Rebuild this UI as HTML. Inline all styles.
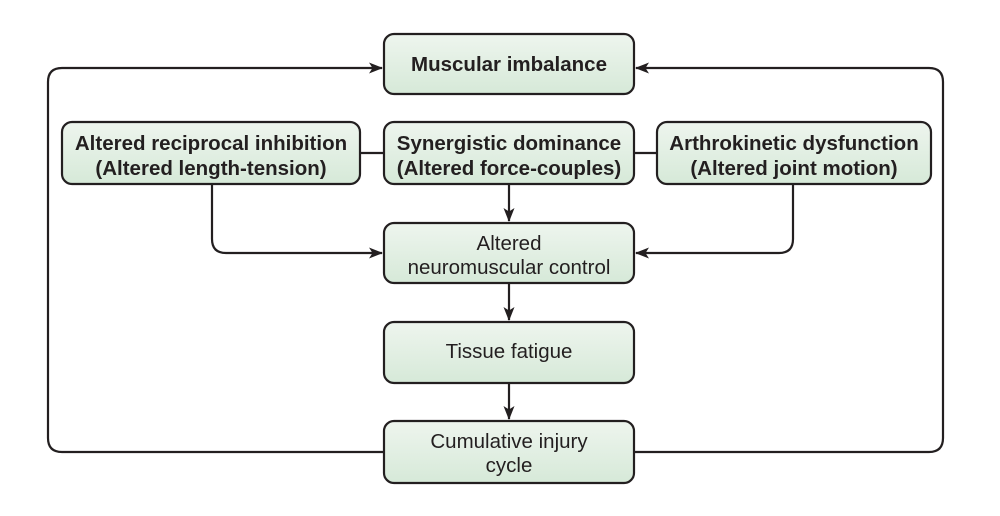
<!DOCTYPE html>
<html><head><meta charset="utf-8"><style>
html,body{margin:0;padding:0;background:#fff;}
svg{display:block;font-family:"Liberation Sans",Arial,sans-serif;}
</style></head><body>
<svg width="1000" height="516" viewBox="0 0 1000 516" xmlns="http://www.w3.org/2000/svg">
<defs>
<linearGradient id="g" x1="0" y1="0" x2="0" y2="1">
<stop offset="0" stop-color="#eef5ee"/><stop offset="1" stop-color="#d6e9d8"/>
</linearGradient>
<marker id="a" viewBox="0 0 14 11" refX="13" refY="5.5" markerWidth="14" markerHeight="11" markerUnits="userSpaceOnUse" orient="auto">
<path d="M0,0 L14,5.5 L0,11 L3.5,5.5 z" fill="#231f20"/>
</marker>
</defs>
<g fill="none" stroke="#231f20" stroke-width="2.2">
<path d="M384,452 H62 Q48,452 48,438 V82 Q48,68 62,68 H382" marker-end="url(#a)"/>
<path d="M634,452 H929 Q943,452 943,438 V82 Q943,68 929,68 H636" marker-end="url(#a)"/>
<path d="M360,153 H384"/>
<path d="M634,153 H657"/>
<path d="M212,184 V239 Q212,253 226,253 H382" marker-end="url(#a)"/>
<path d="M793,184 V239 Q793,253 779,253 H636" marker-end="url(#a)"/>
<path d="M509,184 V221" marker-end="url(#a)"/>
<path d="M509,283 V320" marker-end="url(#a)"/>
<path d="M509,383 V419" marker-end="url(#a)"/>
</g>
<g fill="url(#g)" stroke="#231f20" stroke-width="2.2">
<rect x="384" y="34" width="250" height="60" rx="10"/>
<rect x="62" y="122" width="298" height="62" rx="10"/>
<rect x="384" y="122" width="250" height="62" rx="10"/>
<rect x="657" y="122" width="274" height="62" rx="10"/>
<rect x="384" y="223" width="250" height="60" rx="10"/>
<rect x="384" y="322" width="250" height="61" rx="10"/>
<rect x="384" y="421" width="250" height="62" rx="10"/>
</g>
<g fill="#231f20" text-anchor="middle" font-size="20.5">
<text x="509" y="71" font-weight="bold" font-size="20.5">Muscular imbalance</text>
<text x="211" y="150" font-weight="bold">Altered reciprocal inhibition</text>
<text x="211" y="175" font-weight="bold">(Altered length-tension)</text>
<text x="509" y="150" font-weight="bold">Synergistic dominance</text>
<text x="509" y="175" font-weight="bold">(Altered force-couples)</text>
<text x="794" y="150" font-weight="bold">Arthrokinetic dysfunction</text>
<text x="794" y="175" font-weight="bold">(Altered joint motion)</text>
<text x="509" y="250">Altered</text>
<text x="509" y="274">neuromuscular control</text>
<text x="509" y="358">Tissue fatigue</text>
<text x="509" y="448">Cumulative injury</text>
<text x="509" y="472">cycle</text>
</g>
</svg>
</body></html>
